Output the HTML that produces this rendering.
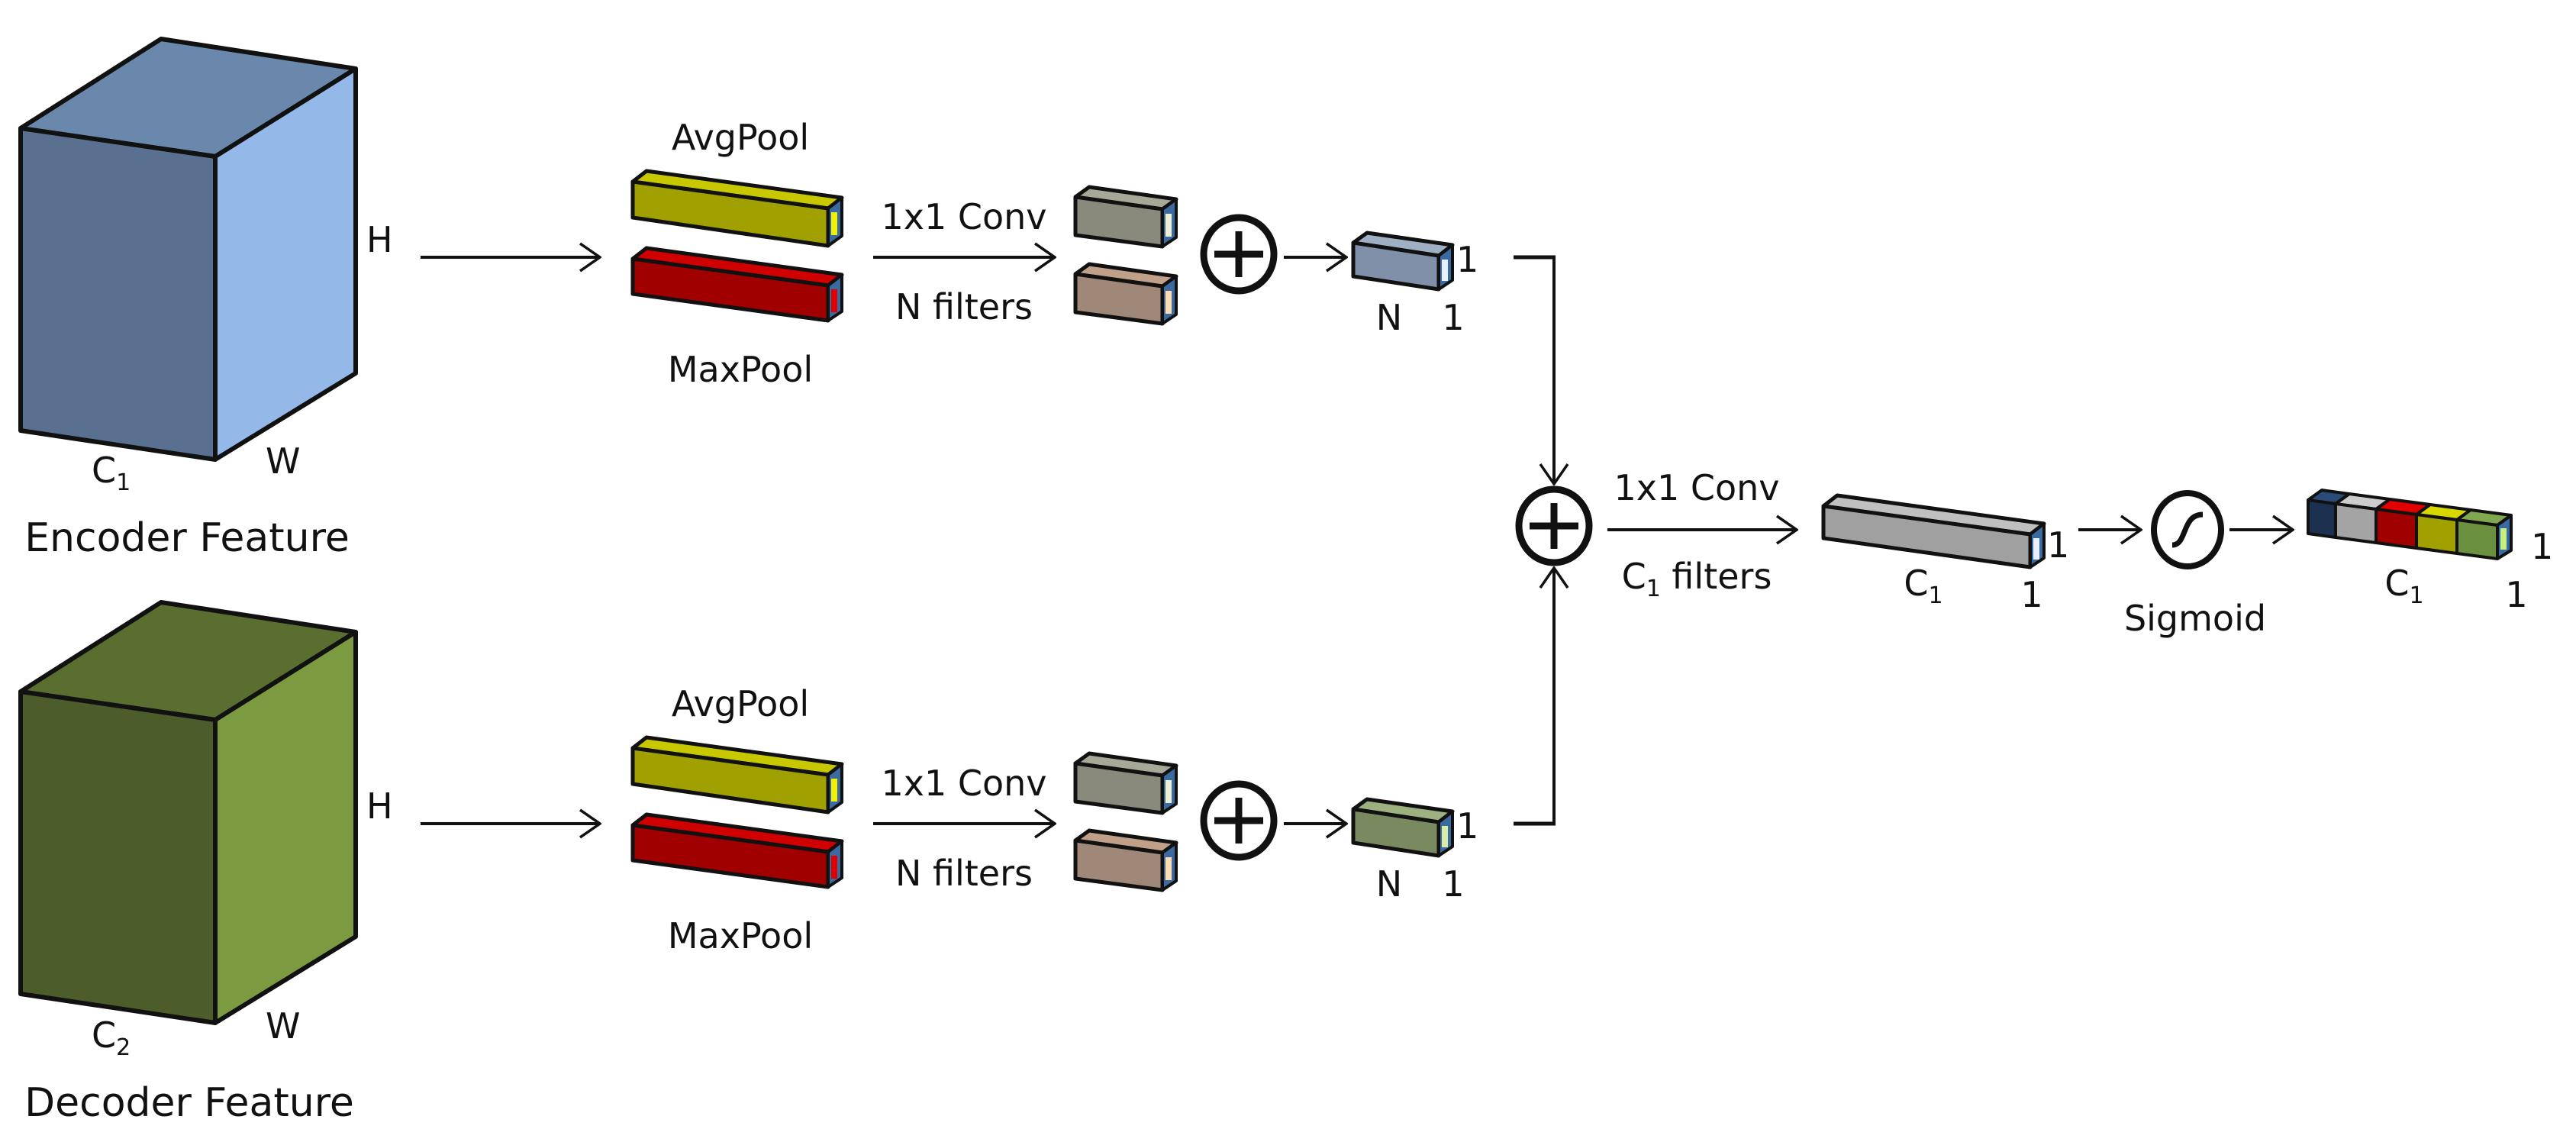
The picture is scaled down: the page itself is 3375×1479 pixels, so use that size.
<!DOCTYPE html>
<html><head><meta charset="utf-8"><style>
html,body{margin:0;padding:0;background:#fff}
svg{display:block}
text{font-family:"DejaVu Sans","Liberation Sans",sans-serif;fill:#111}
</style></head><body>
<svg width="3375" height="1479" viewBox="0 0 3375 1479" xmlns="http://www.w3.org/2000/svg">
<defs>
<marker id="ah" markerWidth="30" markerHeight="40" refX="28" refY="20" orient="auto" markerUnits="userSpaceOnUse">
<path d="M2,2 L28,20 L2,38" fill="none" stroke="#111" stroke-width="3.5"/>
</marker>
</defs>
<g stroke="#111" stroke-linejoin="round">
<g id="br">
<polygon points="829,238 847,224 1103,259 1085,273" fill="#c8c800" stroke-width="5"/>
<polygon points="829,238 1085,273 1085,322 829,285" fill="#a0a000" stroke-width="5"/>
<polygon points="1085,273 1103,259 1103,309 1085,322" fill="#3a6aa0" stroke-width="4"/>
<rect x="1089" y="278" width="8" height="30" fill="#f0f000" stroke="none"/>

<polygon points="829,339 847,325 1103,360 1085,374" fill="#d00000" stroke-width="5"/>
<polygon points="829,339 1085,374 1085,420 829,385" fill="#a00000" stroke-width="5"/>
<polygon points="1085,374 1103,360 1103,408 1085,420" fill="#3a6aa0" stroke-width="4"/>
<rect x="1089" y="379" width="8" height="30" fill="#e00000" stroke="none"/>

<polygon points="1409,258 1427,245 1541,261 1523,274" fill="#a8a898" stroke-width="5"/>
<polygon points="1409,258 1523,274 1523,323 1409,308" fill="#8a8a7c" stroke-width="5"/>
<polygon points="1523,274 1541,261 1541,311 1523,323" fill="#3a6aa0" stroke-width="4"/>
<rect x="1527" y="280" width="8" height="30" fill="#eeeed0" stroke="none"/>

<polygon points="1409,359 1427,346 1541,362 1523,375" fill="#c0a088" stroke-width="5"/>
<polygon points="1409,359 1523,375 1523,424 1409,409" fill="#a08878" stroke-width="5"/>
<polygon points="1523,375 1541,362 1541,412 1523,424" fill="#3a6aa0" stroke-width="4"/>
<rect x="1527" y="381" width="8" height="30" fill="#ffdcb0" stroke="none"/>

<ellipse cx="1623" cy="333" rx="46" ry="48" fill="none" stroke-width="9"/>
<line x1="1591" y1="333" x2="1655" y2="333" stroke-width="9"/>
<line x1="1623" y1="303" x2="1623" y2="363" stroke-width="9"/>

<line x1="551" y1="337" x2="786" y2="337" stroke-width="4" marker-end="url(#ah)"/>
<line x1="1144" y1="337" x2="1382" y2="337" stroke-width="4" marker-end="url(#ah)"/>
<line x1="1682" y1="337" x2="1764" y2="337" stroke-width="4" marker-end="url(#ah)"/>
<line x1="1983" y1="337" x2="2038" y2="337" stroke-width="5"/>
</g>
<use href="#br" y="742"/>

<polygon points="1773,318 1791,305 1903,321 1885,335" fill="#a0b0c4" stroke-width="5"/>
<polygon points="1773,318 1885,335 1885,379 1773,362" fill="#8090a8" stroke-width="5"/>
<polygon points="1885,335 1903,321 1903,367 1885,379" fill="#3a6aa0" stroke-width="4"/>
<rect x="1889" y="340" width="8" height="28" fill="#e8f0ff" stroke="none"/>

<polygon points="1773,1060 1791,1047 1903,1063 1885,1077" fill="#9cb080" stroke-width="5"/>
<polygon points="1773,1060 1885,1077 1885,1121 1773,1104" fill="#7a8a60" stroke-width="5"/>
<polygon points="1885,1077 1903,1063 1903,1109 1885,1121" fill="#3a6aa0" stroke-width="4"/>
<rect x="1889" y="1082" width="8" height="28" fill="#d8eca8" stroke="none"/>

<polygon points="27,168 211,51 466,90 282,205" fill="#6a88ac" stroke-width="6"/>
<polygon points="27,168 282,205 282,602 27,564" fill="#5a7090" stroke-width="6"/>
<polygon points="282,205 466,90 466,489 282,602" fill="#94b8e8" stroke-width="6"/>
<g transform="translate(0,738)">
<polygon points="27,168 211,51 466,90 282,205" fill="#5a6e30" stroke-width="6"/>
<polygon points="27,168 282,205 282,602 27,564" fill="#4c5c2a" stroke-width="6"/>
<polygon points="282,205 466,90 466,489 282,602" fill="#7c9a40" stroke-width="6"/>
</g>

<line x1="2036" y1="337" x2="2036" y2="634" stroke-width="4" marker-end="url(#ah)"/>
<line x1="2036" y1="1081" x2="2036" y2="744" stroke-width="4" marker-end="url(#ah)"/>

<ellipse cx="2036" cy="689" rx="46" ry="48" fill="none" stroke-width="9"/>
<line x1="2004" y1="689" x2="2068" y2="689" stroke-width="9"/>
<line x1="2036" y1="659" x2="2036" y2="719" stroke-width="9"/>

<line x1="2106" y1="694" x2="2354" y2="694" stroke-width="4" marker-end="url(#ah)"/>

<polygon points="2389,663 2407,649 2678,686 2660,700" fill="#c0c0c0" stroke-width="5"/>
<polygon points="2389,663 2660,700 2660,743 2389,705" fill="#a0a0a0" stroke-width="5"/>
<polygon points="2660,700 2678,686 2678,731 2660,743" fill="#3a6aa0" stroke-width="4"/>
<rect x="2664" y="705" width="8" height="28" fill="#e8f0ff" stroke="none"/>

<line x1="2723" y1="694" x2="2805" y2="694" stroke-width="4" marker-end="url(#ah)"/>
<ellipse cx="2866" cy="694" rx="44" ry="48" fill="none" stroke-width="8"/>
<path d="M2846,714 C2866,714 2858,674 2886,674" fill="none" stroke-width="7"/>
<line x1="2921" y1="694" x2="3004" y2="694" stroke-width="4" marker-end="url(#ah)"/>

<polygon points="3024,655 3042,642 3078,647 3060,660" fill="#2a4a78" stroke-width="4"/>
<polygon points="3024,655 3060,660 3060,704 3024,699" fill="#1c3050" stroke-width="4"/>
<polygon points="3060,660 3078,647 3131,654 3113,667" fill="#cccccc" stroke-width="4"/>
<polygon points="3060,660 3113,667 3113,711 3060,704" fill="#a4a4a4" stroke-width="4"/>
<polygon points="3113,667 3131,654 3184,661 3166,674" fill="#e00000" stroke-width="4"/>
<polygon points="3113,667 3166,674 3166,718 3113,711" fill="#a00000" stroke-width="4"/>
<polygon points="3166,674 3184,661 3237,668 3219,681" fill="#d8d800" stroke-width="4"/>
<polygon points="3166,674 3219,681 3219,725 3166,718" fill="#a0a000" stroke-width="4"/>
<polygon points="3219,681 3237,668 3290,675 3272,688" fill="#80a850" stroke-width="4"/>
<polygon points="3219,681 3272,688 3272,732 3219,725" fill="#6a9040" stroke-width="4"/>
<polygon points="3272,688 3290,675 3290,721 3272,732" fill="#3a6aa0" stroke-width="4"/>
<rect x="3276" y="692" width="8" height="28" fill="#c8f080" stroke="none"/>
</g>

<g font-size="46">
<text x="480" y="330">H</text>
<text x="348" y="620">W</text>
<text x="120" y="632">C<tspan font-size="30" dy="10">1</tspan></text>
<text x="245" y="722" text-anchor="middle" font-size="52">Encoder Feature</text>
<text x="970" y="196" text-anchor="middle">AvgPool</text>
<text x="970" y="500" text-anchor="middle">MaxPool</text>
<text x="1263" y="300" text-anchor="middle">1x1 Conv</text>
<text x="1263" y="418" text-anchor="middle">N filters</text>
<text x="1908" y="356">1</text>
<text x="1820" y="432" text-anchor="middle">N</text>
<text x="1904" y="432" text-anchor="middle">1</text>

<text x="480" y="1072">H</text>
<text x="348" y="1360">W</text>
<text x="120" y="1372">C<tspan font-size="30" dy="10">2</tspan></text>
<text x="248" y="1462" text-anchor="middle" font-size="52">Decoder Feature</text>
<text x="970" y="938" text-anchor="middle">AvgPool</text>
<text x="970" y="1242" text-anchor="middle">MaxPool</text>
<text x="1263" y="1042" text-anchor="middle">1x1 Conv</text>
<text x="1263" y="1160" text-anchor="middle">N filters</text>
<text x="1908" y="1098">1</text>
<text x="1820" y="1174" text-anchor="middle">N</text>
<text x="1904" y="1174" text-anchor="middle">1</text>

<text x="2223" y="655" text-anchor="middle">1x1 Conv</text>
<text x="2223" y="771" text-anchor="middle">C<tspan font-size="30" dy="10">1</tspan><tspan dy="-10"> filters</tspan></text>
<text x="2682" y="730">1</text>
<text x="2520" y="780" text-anchor="middle">C<tspan font-size="30" dy="10">1</tspan></text>
<text x="2662" y="795" text-anchor="middle">1</text>
<text x="2876" y="826" text-anchor="middle">Sigmoid</text>
<text x="3316" y="732">1</text>
<text x="3150" y="780" text-anchor="middle">C<tspan font-size="30" dy="10">1</tspan></text>
<text x="3297" y="795" text-anchor="middle">1</text>
</g>
</svg>
</body></html>
